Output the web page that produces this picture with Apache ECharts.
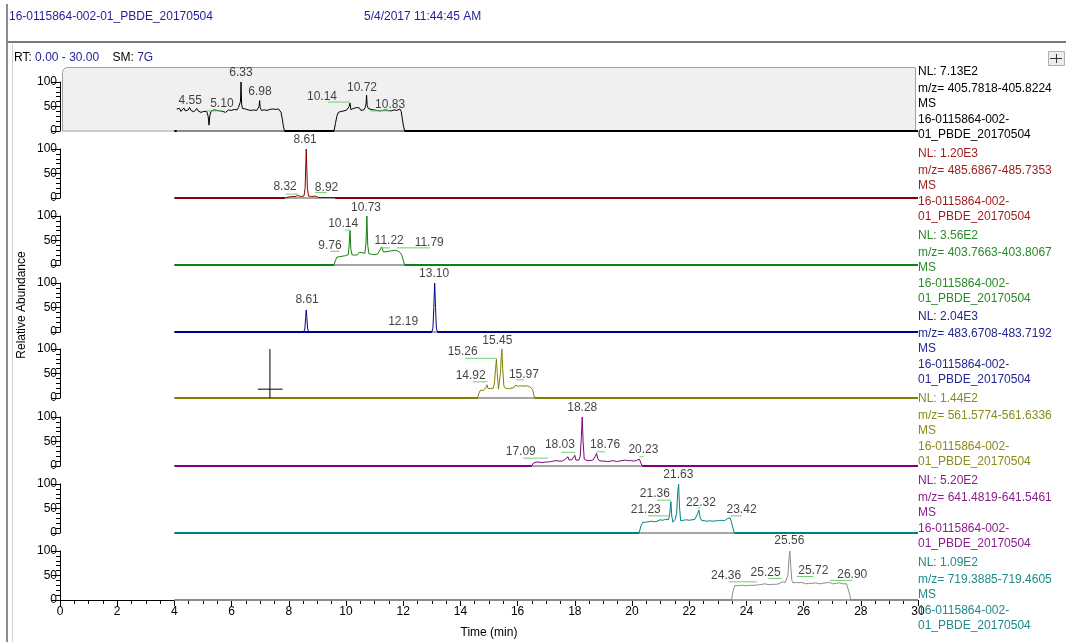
<!DOCTYPE html>
<html>
<head>
<meta charset="utf-8">
<title>16-0115864-002-01_PBDE_20170504</title>
<script src="https://cdn.jsdelivr.net/npm/echarts/dist/echarts.min.js"></script>
<style>
  html, body { margin: 0; padding: 0; background: #fff; }
  #main { width: 1066px; height: 642px; }
</style>
</head>
<body>
<div id="main"></div>
<script>
// time range of the scan (min)
const scanStart = 4;
const scanEnd = 30;

// traces: [time (min), relative abundance %]
const trace1 = [[4.08,45],[4.13,42],[4.18,46],[4.23,40],[4.28,44],[4.33,47],[4.38,41],[4.43,45],[4.48,43],[4.53,48],[4.58,42],[4.63,44],[4.68,39],[4.73,43],[4.78,46],[4.83,41],[4.88,44],[4.93,38],[4.98,42],[5.03,40],[5.08,37],[5.13,40],[5.18,30],[5.21,12],[5.24,32],[5.29,41],[5.34,38],[5.39,43],[5.44,40],[5.49,42],[5.54,39],[5.59,41],[5.64,43],[5.69,40],[5.74,42],[5.79,38],[5.84,41],[5.89,43],[5.94,40],[5.99,42],[6.04,39],[6.09,44],[6.14,41],[6.19,43],[6.24,48],[6.28,44],[6.31,60],[6.33,100],[6.35,55],[6.38,46],[6.43,50],[6.48,45],[6.53,48],[6.58,43],[6.63,47],[6.68,42],[6.73,45],[6.78,43],[6.83,46],[6.88,42],[6.93,45],[6.96,50],[6.98,62],[7.00,48],[7.04,42],[7.09,45],[7.14,43],[7.19,44],[7.24,42],[7.29,45],[7.34,44],[7.39,43],[7.44,45],[7.49,42],[7.54,44],[7.59,43],[7.64,45],[7.69,42],[7.73,38],[7.77,25],[7.81,10],[7.85,0],
  [9.58,0],[9.63,15],[9.68,30],[9.73,38],[9.78,42],[9.83,40],[9.88,44],[9.93,41],[9.98,45],[10.03,43],[10.08,46],[10.11,50],[10.14,57],[10.17,44],[10.22,42],[10.27,46],[10.32,43],[10.37,48],[10.42,44],[10.47,47],[10.52,42],[10.57,45],[10.62,43],[10.67,48],[10.70,55],[10.72,73],[10.74,52],[10.78,46],[10.83,49],[10.88,44],[10.93,47],[10.98,43],[11.03,46],[11.08,42],[11.13,45],[11.18,41],[11.23,44],[11.28,42],[11.33,45],[11.38,43],[11.43,46],[11.48,42],[11.53,44],[11.58,41],[11.63,45],[11.68,43],[11.73,46],[11.78,42],[11.83,44],[11.88,45],[11.93,40],[11.97,25],[12.01,10],[12.05,0],[30,0]];
const trace2 = [[4,0],[7.88,0],[7.92,1],[7.98,2],[8.04,1],[8.10,3],[8.16,2],[8.22,3],[8.28,2],[8.32,5],[8.36,2],[8.42,3],[8.48,2],[8.53,4],[8.57,20],[8.61,100],[8.65,20],[8.69,4],[8.74,2],[8.80,3],[8.86,2],[8.92,4],[8.98,2],[9.04,1],[9.10,0],[30,0]];
const trace3 = [[4,0],[9.58,0],[9.63,9],[9.68,16],[9.73,19],[9.78,17],[9.83,21],[9.88,18],[9.93,22],[9.98,19],[10.03,23],[10.08,21],[10.11,40],[10.14,70],[10.17,32],[10.21,21],[10.26,25],[10.31,20],[10.36,24],[10.41,21],[10.46,26],[10.51,22],[10.56,25],[10.61,21],[10.66,24],[10.70,45],[10.73,100],[10.76,40],[10.80,23],[10.85,26],[10.90,22],[10.95,25],[11.00,21],[11.05,24],[11.10,22],[11.15,27],[11.20,31],[11.25,37],[11.30,27],[11.35,24],[11.40,27],[11.45,24],[11.50,28],[11.55,25],[11.60,29],[11.65,26],[11.70,30],[11.75,27],[11.80,29],[11.85,26],[11.90,25],[11.95,20],[12.00,10],[12.05,0],[30,0]];
const trace4 = [[4,0],[8.52,0],[8.56,6],[8.59,30],[8.61,45],[8.63,30],[8.66,6],[8.70,0],[12.14,0],[12.19,4],[12.24,0],[13.0,0],[13.04,8],[13.07,50],[13.10,100],[13.13,50],[13.16,8],[13.20,0],[30,0]];
const trace5 = [[4,0],[14.60,0],[14.65,10],[14.70,16],[14.75,18],[14.80,15],[14.85,19],[14.90,22],[14.93,27],[14.96,20],[15.00,17],[15.05,19],[15.10,16],[15.15,20],[15.19,30],[15.23,60],[15.26,79],[15.29,50],[15.33,18],[15.37,22],[15.40,50],[15.43,85],[15.45,100],[15.48,60],[15.52,25],[15.57,20],[15.62,23],[15.67,19],[15.72,22],[15.77,20],[15.82,24],[15.87,21],[15.92,26],[15.97,30],[16.02,24],[16.07,22],[16.12,25],[16.17,21],[16.22,24],[16.27,22],[16.32,25],[16.37,21],[16.42,23],[16.47,20],[16.52,18],[16.56,8],[16.60,0],[30,0]];
const trace6 = [[4,0],[16.49,0],[16.55,6],[16.60,9],[16.65,8],[16.70,10],[16.75,8],[16.80,9],[16.85,7],[16.90,10],[16.95,8],[17.00,9],[17.05,8],[17.10,10],[17.15,9],[17.20,8],[17.25,10],[17.30,9],[17.35,11],[17.40,9],[17.45,10],[17.50,12],[17.55,10],[17.60,11],[17.65,13],[17.70,15],[17.76,19],[17.80,12],[17.85,11],[17.90,13],[17.95,16],[18.00,22],[18.04,12],[18.09,10],[18.14,12],[18.19,20],[18.23,60],[18.26,100],[18.29,50],[18.33,14],[18.38,10],[18.43,11],[18.48,9],[18.53,11],[18.58,10],[18.63,12],[18.68,14],[18.72,20],[18.76,26],[18.80,16],[18.85,11],[18.90,12],[18.95,10],[19.00,14],[19.05,10],[19.10,11],[19.15,9],[19.20,11],[19.25,10],[19.30,9],[19.35,11],[19.40,10],[19.45,9],[19.50,11],[19.55,10],[19.60,9],[19.65,11],[19.70,10],[19.75,12],[19.80,10],[19.85,11],[19.90,9],[19.95,11],[20.00,12],[20.05,10],[20.10,12],[20.15,11],[20.20,13],[20.26,14],[20.31,6],[20.36,0],[30,0]];
const trace7 = [[4,0],[20.25,0],[20.31,14],[20.38,22],[20.43,24],[20.48,22],[20.53,25],[20.58,23],[20.63,26],[20.68,24],[20.73,25],[20.78,23],[20.83,26],[20.88,24],[20.93,25],[20.98,27],[21.03,24],[21.08,26],[21.13,25],[21.18,28],[21.23,30],[21.28,27],[21.32,40],[21.36,64],[21.39,35],[21.43,22],[21.47,24],[21.51,28],[21.56,40],[21.60,85],[21.63,100],[21.66,55],[21.70,25],[21.75,23],[21.80,26],[21.85,24],[21.90,27],[21.95,25],[22.00,26],[22.05,24],[22.10,27],[22.15,25],[22.20,28],[22.25,30],[22.30,40],[22.34,47],[22.38,32],[22.43,26],[22.48,28],[22.53,25],[22.58,27],[22.63,24],[22.68,26],[22.73,25],[22.78,27],[22.83,24],[22.88,26],[22.93,25],[22.98,27],[23.03,25],[23.08,28],[23.13,26],[23.18,27],[23.23,25],[23.28,28],[23.33,29],[23.38,30],[23.43,31],[23.48,22],[23.53,10],[23.58,0],[30,0]];
const trace8 = [[4,0],[23.48,0],[23.54,20],[23.60,30],[23.65,31],[23.70,29],[23.75,31],[23.80,30],[23.85,32],[23.90,30],[23.95,31],[24.00,29],[24.05,31],[24.10,30],[24.15,32],[24.20,30],[24.25,31],[24.30,30],[24.36,32],[24.42,31],[24.48,30],[24.54,32],[24.60,31],[24.66,33],[24.72,32],[24.78,31],[24.84,33],[24.90,32],[24.96,34],[25.02,32],[25.08,34],[25.14,33],[25.20,35],[25.25,37],[25.30,34],[25.36,36],[25.41,38],[25.45,50],[25.49,85],[25.52,100],[25.55,70],[25.59,40],[25.63,35],[25.68,34],[25.72,36],[25.77,33],[25.82,35],[25.88,34],[25.94,36],[26.00,34],[26.06,33],[26.12,35],[26.18,34],[26.24,36],[26.30,34],[26.36,33],[26.42,35],[26.48,34],[26.54,33],[26.60,35],[26.66,34],[26.72,33],[26.78,35],[26.84,34],[26.90,36],[26.96,34],[27.02,33],[27.08,35],[27.14,34],[27.20,33],[27.26,35],[27.32,34],[27.38,33],[27.44,34],[27.50,33],[27.56,30],[27.61,12],[27.65,0],[30,0]];
const traces = [trace1, trace2, trace3, trace4, trace5, trace6, trace7, trace8];

// peak labels: [label time, label height, retention time]
const peaks1 = [[4.55,61,4.55],[5.66,55,5.10],[6.33,118,6.33],[6.99,80,6.98],[9.16,71,10.14],[10.56,88,10.72],[11.54,53,10.83]];
const peaks2 = [[8.57,118,8.61],[7.87,24,8.32],[9.32,22,8.92]];
const peaks3 = [[10.70,117,10.73],[9.90,84,10.14],[9.44,39,9.76],[11.51,50,11.22],[12.91,46,11.79]];
const peaks4 = [[8.64,65,8.61],[12.0,21,12.19],[13.08,120,13.10]];
const peaks5 = [[15.29,117,15.45],[14.08,94,15.26],[14.36,45,14.92],[16.22,47,15.97]];
const peaks6 = [[18.26,120,18.28],[16.11,29,17.09],[17.48,43,18.03],[19.06,44,18.76],[20.40,33,20.23]];
const peaks7 = [[21.62,120,21.63],[20.80,81,21.36],[20.48,47,21.23],[22.41,62,22.32],[23.83,47,23.42]];
const peaks8 = [[25.50,122,25.56],[23.29,49,24.36],[24.67,56,25.25],[26.34,59,25.72],[27.70,52,26.90]];
const peakLabels = [peaks1, peaks2, peaks3, peaks4, peaks5, peaks6, peaks7, peaks8];

// green leader lines: [t1, v1, t2, v2]
const leaders1 = [[5.14,41,5.66,41],[9.37,59,10.14,59],[10.84,41,11.54,41]];
const leaders2 = [[7.89,8,8.32,8],[8.92,11,9.32,11]];
const leaders3 = [[9.45,28,9.77,28],[9.97,71,10.16,71],[11.19,35,11.54,35],[11.78,35,12.94,35]];
const leaders4 = [];
const leaders5 = [[14.16,81,15.27,81],[14.43,33,14.94,33],[15.94,37,16.22,37]];
const leaders6 = [[16.20,16,17.07,16],[17.54,28,18.01,28],[18.76,29,19.06,29],[20.26,19,20.40,19]];
const leaders7 = [[20.88,67,21.36,67],[20.57,35,21.27,35],[22.30,50,22.38,52],[23.45,35,23.83,35]];
const leaders8 = [[23.37,37,24.36,37],[24.77,44,25.23,44],[25.76,48,26.34,48],[26.92,40,27.70,40]];
const leaders = [leaders1, leaders2, leaders3, leaders4, leaders5, leaders6, leaders7, leaders8];

// integrated (gray) baseline ranges [start, end]
const baseRanges = [[[4.08,7.85],[9.58,12.05]], [[7.86,9.62]], [[9.58,12.05]], [[13.0,13.2]], [[14.6,16.6]], [[16.49,20.36]], [[20.25,23.58]], [[23.48,27.65]]];

// cursor cross in panel 5
const cursorV = [[7.34,0],[7.34,100]];
const cursorH = [[6.92,18],[7.78,18]];

// right-hand info text
const nlText = ['NL: 7.13E2','NL: 1.20E3','NL: 3.56E2','NL: 2.04E3','NL: 1.44E2','NL: 5.20E2','NL: 1.09E2'];
const mzText = ['m/z= 405.7818-405.8224','m/z= 485.6867-485.7353','m/z= 403.7663-403.8067','m/z= 483.6708-483.7192','m/z= 561.5774-561.6336','m/z= 641.4819-641.5461','m/z= 719.3885-719.4605'];
const fileName = ['16-0115864-002-', '01_PBDE_20170504'];

const traceColors = ['#000000','#8b0000','#118011','#00008b','#808000','#800080','#008080','#8c8c8c'];
const infoColors = ['#000000','#9e1c1c','#2a8a2a','#26268f','#8a8a1e','#8b1e8b','#1e8a8a'];
const FONT = '"Liberation Sans", Arial, sans-serif';

// layout
const plotLeft = 60, plotWidth = 858, plotHeight = 49;
const panelTops = [82, 149, 216, 283, 349, 417, 484, 551];

const chart = echarts.init(document.getElementById('main'));

const grids = [], xAxes = [], yAxes = [], series = [];
panelTops.forEach((top, i) => {
  const last = i === panelTops.length - 1;
  grids.push({ left: plotLeft, top: top, width: plotWidth, height: plotHeight });
  xAxes.push({
    type: 'value', gridIndex: i, min: 0, max: 30, interval: 2,
    show: last,
    axisLine: { show: true, onZero: false, lineStyle: { color: '#000', width: 1 } },
    axisTick: { show: true, length: 6, lineStyle: { color: '#000' } },
    minorTick: { show: true, splitNumber: 4, length: 4, lineStyle: { color: '#000' } },
    splitLine: { show: false },
    axisLabel: { color: '#000', fontSize: 12, fontFamily: FONT, margin: 6 },
    name: last ? 'Time (min)' : '',
    nameLocation: 'middle', nameGap: 27,
    nameTextStyle: { color: '#000', fontSize: 12, fontFamily: FONT }
  });
  yAxes.push({
    type: 'value', gridIndex: i, min: 0, max: 100, interval: 50,
    axisLine: { show: true, lineStyle: { color: '#000', width: 1 } },
    axisTick: { show: true, length: 8, lineStyle: { color: '#000' } },
    minorTick: { show: true, splitNumber: 5, length: 4, lineStyle: { color: '#000' } },
    splitLine: { show: false },
    axisLabel: { color: '#000', fontSize: 12, fontFamily: FONT, margin: 3 }
  });

  const color = traceColors[i];
  // zero line of the scan
  series.push({
    type: 'line', xAxisIndex: i, yAxisIndex: i, z: 2,
    data: [[scanStart, 0], [scanEnd, 0]],
    showSymbol: false, silent: true,
    lineStyle: { color: color, width: 2 }
  });
  // integrated baseline segments
  baseRanges[i].forEach(r => {
    series.push({
      type: 'line', xAxisIndex: i, yAxisIndex: i, z: 3,
      data: [[r[0], 0], [r[1], 0]],
      showSymbol: false, silent: true,
      lineStyle: { color: i === 0 ? '#8a8a8a' : '#a6a6a6', width: 2 }
    });
  });
  // the chromatogram
  series.push({
    type: 'line', xAxisIndex: i, yAxisIndex: i, z: 4,
    data: traces[i],
    showSymbol: false, silent: true,
    lineStyle: { color: color, width: 1 }
  });
  // leader lines
  leaders[i].forEach(s => {
    series.push({
      type: 'line', xAxisIndex: i, yAxisIndex: i, z: 5, clip: false,
      data: [[s[0], s[1]], [s[2], s[3]]],
      showSymbol: false, silent: true,
      lineStyle: { color: '#6fcf6f', width: 1 }
    });
  });
  // peak labels
  series.push({
    type: 'scatter', xAxisIndex: i, yAxisIndex: i, z: 6, clip: false,
    symbolSize: 1, silent: true,
    itemStyle: { color: 'rgba(0,0,0,0)' },
    label: {
      show: true, position: 'inside', color: '#111', fontSize: 12, fontFamily: FONT,
      formatter: p => p.value[2].toFixed(2)
    },
    data: peakLabels[i]
  });
});

// cursor cross (panel 5)
[cursorV, cursorH].forEach(d => {
  series.push({
    type: 'line', xAxisIndex: 4, yAxisIndex: 4, z: 6, clip: false,
    data: d, showSymbol: false, silent: true,
    lineStyle: { color: '#000', width: 1 }
  });
});

// right-hand text blocks
const graphic = [];
const lineOffsets = [0, 17, 32, 48, 63];
nlText.forEach((nl, i) => {
  const y0 = 73 + i * 81.7;
  const lines = [nl, mzText[i], 'MS', fileName[0], fileName[1]];
  lines.forEach((t, k) => {
    graphic.push({
      type: 'text', left: 918, top: y0 + lineOffsets[k] - 7, z: 10,
      style: { text: t, fill: infoColors[i], font: '12px ' + FONT }
    });
  });
});

// frame, header and titles
graphic.push(
  { type: 'line', shape: { x1: 7, y1: 4, x2: 7, y2: 642 }, style: { stroke: '#8c8c8c', lineWidth: 2 }, z: 1 },
  { type: 'line', shape: { x1: 12.5, y1: 44, x2: 12.5, y2: 642 }, style: { stroke: '#d0d0d0', lineWidth: 1 }, z: 1 },
  { type: 'line', shape: { x1: 7, y1: 42, x2: 1066, y2: 42 }, style: { stroke: '#7a7a7a', lineWidth: 2 }, z: 1 },
  { type: 'text', left: 9, top: 11, style: { text: '16-0115864-002-01_PBDE_20170504', fill: '#1f1f99', font: '12px ' + FONT } },
  { type: 'text', left: 364, top: 11, style: { text: '5/4/2017 11:44:45 AM', fill: '#1f1f99', font: '12px ' + FONT } },
  {
    type: 'text', left: 14, top: 52,
    style: {
      text: '{k|RT:} {v|0.00 - 30.00}    {k|SM:} {v|7G}',
      font: '12px ' + FONT,
      rich: {
        k: { fill: '#000', fontSize: 12, fontFamily: FONT },
        v: { fill: '#2424a0', fontSize: 12, fontFamily: FONT }
      }
    }
  },
  {
    type: 'rect', z: 0,
    shape: { x: 62.5, y: 67.5, width: 853, height: 63.5, r: [5, 0, 0, 0] },
    style: { fill: '#f0f0f0', stroke: '#a0a0a0', lineWidth: 1 }
  },
  {
    type: 'text', x: 22, y: 305, rotation: Math.PI / 2,
    style: { text: 'Relative Abundance', fill: '#000', font: '12px ' + FONT, align: 'center', verticalAlign: 'middle' }
  },
  // pin icon top right
  { type: 'rect', shape: { x: 1048.5, y: 51.5, width: 16, height: 14 }, style: { fill: '#ececec', stroke: '#b0b0b0' }, z: 1 },
  { type: 'line', shape: { x1: 1050, y1: 58.5, x2: 1062, y2: 58.5 }, style: { stroke: '#333', lineWidth: 1 }, z: 2 },
  { type: 'line', shape: { x1: 1056.5, y1: 54, x2: 1056.5, y2: 63 }, style: { stroke: '#333', lineWidth: 1 }, z: 2 }
);

chart.setOption({
  backgroundColor: '#fff',
  animation: false,
  grid: grids,
  xAxis: xAxes,
  yAxis: yAxes,
  series: series,
  graphic: graphic
});
</script>
</body>
</html>
